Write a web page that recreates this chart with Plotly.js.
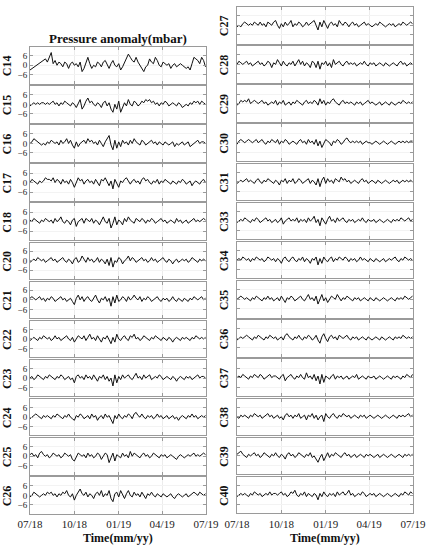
<!DOCTYPE html>
<html>
<head>
<meta charset="utf-8">
<script src="https://cdn.plot.ly/plotly-3.0.1.min.js"></script>
<style>
  html, body { margin: 0; padding: 0; background: #fff; }
  #chart { width: 428px; height: 550px; }
</style>
</head>
<body>
<div id="chart"></div>
<script>
// samples every 4 days starting 2018-07-01 (92 values per station)
var startDate = '2018-07-01';
var stepDays = 4;

var tickDates = ['2018-07-01', '2018-10-01', '2019-01-01', '2019-04-01', '2019-07-01'];
var tickLabels = ['07/18', '10/18', '01/19', '04/19', '07/19'];

var leftNames = ['C14', 'C15', 'C16', 'C17', 'C18', 'C20', 'C21', 'C22', 'C23', 'C24', 'C25', 'C26'];
var rightNames = ['C27', 'C28', 'C29', 'C30', 'C31', 'C33', 'C34', 'C35', 'C36', 'C37', 'C38', 'C39', 'C40'];

var C14 = [-3, null, null, null, null, null, null, 3, 4, 2,
  5, 8, 1, 3, 0, 2, 1, -1, 2, 1,
  -2, 1, 2, 0, 1, -1, 2, -4, -2, 1,
  5, 1, -2, 0, -1, 2, 1, -1, 2, 3,
  0, -2, 1, 3, 0, -1, 1, -3, -1, 2,
  4, 7, 5, 3, 2, 5, 2, 0, -2, -4,
  -1, 0, 4, 2, 1, 5, 3, 0, -1, 2,
  1, 0, 1, -2, 0, 1, -1, 0, 1, 0,
  -1, -2, -1, -3, 1, 5, 4, 3, 1, 5,
  3, -1];
var C15 = [-1, 0, 1, 0, 1, 0, 1, 1, 0, 1,
  0, 1, 2, 0, 1, -1, 1, 0, 2, 1,
  0, -1, 1, 0, -2, 1, 3, -3, -1, 2,
  4, 1, 2, 0, -1, 1, 0, -2, 1, 2,
  -1, 1, -3, -5, 0, -3, 2, -5, -2, 1,
  -1, 3, 0, -1, 2, 1, -1, 0, 2, 1,
  3, 2, 3, 1, 2, 0, 1, -1, 1, 0,
  2, 1, -1, 0, 1, 0, -1, 1, 0, -2,
  -1, 0, -1, 1, 0, 2, 1, 2, 0, 2,
  1, 0];
var C16 = [0, 1, 3, 2, 1, 0, -1, 0, -1, 1,
  0, 2, 1, 0, 1, -1, 2, 0, 1, 3,
  0, 2, -1, -3, 1, -2, 0, 1, 2, 0,
  3, 1, 2, 0, 1, -1, 2, 0, -2, 1,
  3, 5, -1, -4, 2, -3, 1, -2, 2, 0,
  1, -1, 2, 0, 3, 1, 0, -1, 2, 1,
  -1, 0, 1, 2, 0, 1, -1, 1, 0, -1,
  1, 0, -1, 0, 1, -2, 0, -1, 0, 1,
  -1, 0, 1, -2, -1, 0, 1, 2, 0, 1,
  1, 0];
var C17 = [0, 2, 1, 0, -1, 1, 0, 1, 3, 2,
  2, 1, 3, 0, 2, 1, -1, 2, 0, 1,
  -1, 2, 0, -3, 0, 3, 1, 2, -1, 1,
  2, 0, 1, -1, 2, 0, -2, 2, 1, 3,
  0, -2, 1, -4, 2, -1, -3, 1, 0, 2,
  3, 1, -1, 1, 2, 0, 1, -1, 2, 3,
  1, 2, 0, -1, 1, 0, 2, -1, 1, 0,
  2, 1, 0, -1, 1, 0, -1, 1, 0, 2,
  1, -1, 0, 1, -2, 0, 1, 0, -1, 1,
  2, 0];
var C18 = [1, 0, 2, 1, 0, -1, 1, 0, 2, 1,
  0, 1, -1, 2, 0, 1, 3, 0, -1, 1,
  0, -2, 1, 2, -3, 0, 1, 2, -1, 2,
  1, 0, 2, -1, 1, 0, -2, 1, 3, 0,
  -1, 2, -4, -1, 3, -2, 1, 0, -2, 2,
  0, 3, 1, 0, -1, 2, 1, 0, 2, 1,
  -1, 1, 0, 2, 1, -1, 0, 1, 2, 0,
  1, -1, 0, 1, 0, -1, 2, 0, 1, -1,
  0, 1, -1, 0, 1, 2, 0, 1, 0, 1,
  2, 1];
var C20 = [-1, 0, 1, 0, 2, 1, 0, 1, -1, 0,
  1, 2, 0, 1, -1, 0, 1, 2, 0, -1,
  1, 0, -2, 1, 2, -1, 0, 3, 1, -1,
  2, 0, 1, -1, 0, 2, -1, 1, 0, -2,
  1, -3, 2, -4, 0, -1, 2, 1, -2, 0,
  1, 3, 0, 2, 1, -1, 0, 1, 2, 0,
  1, -1, 0, 2, 0, 1, -1, 0, 1, 2,
  0, -1, 1, 0, -2, 0, 1, -1, 0, 1,
  0, 1, -1, 0, 2, 1, 0, -1, 1, 0,
  1, 0];
var C21 = [1, 2, 1, 0, 1, 2, 0, 1, -1, 1,
  0, 2, 1, -1, 0, 1, 2, 0, 1, -1,
  0, 1, -1, -3, 1, 3, 0, 2, -1, 1,
  2, 0, -1, 1, 3, 0, -2, 1, 0, 2,
  -1, 1, -4, 2, -2, 3, -1, 0, 2, 1,
  -1, 2, 0, 1, 3, 1, 0, 2, -1, 1,
  0, 2, 1, -1, 0, 1, 2, 0, -1, 1,
  0, 1, -1, 0, 2, 0, -1, 1, 0, -1,
  1, 0, -1, 1, 0, 2, 1, 0, 1, 2,
  0, 1];
var C22 = [-1, 0, 1, 0, -1, 1, 0, 2, 1, 0,
  1, -1, 0, 2, 0, 1, -1, 0, 1, 2,
  0, -1, 1, -2, 0, 2, 1, 0, 2, -1,
  1, 3, 0, 1, -1, 2, 0, -2, 1, 0,
  2, -1, -3, 1, -2, 3, 0, -1, 1, 2,
  0, -1, 2, 1, 3, 0, 1, -1, 0, 2,
  1, 0, -1, 1, 0, 2, 1, 0, -1, 1,
  0, -1, 1, 0, -2, 0, 1, 0, -1, 1,
  0, 1, 0, -1, 1, 0, 2, 1, 0, 1,
  0, 1];
var C23 = [0, 1, -1, 0, 2, 1, 0, -1, 1, 0,
  2, 1, 0, -1, 1, 0, 2, 1, -1, 0,
  1, -1, 0, -3, 1, 2, 0, 1, -1, 2,
  0, 1, -1, 2, 0, -2, 1, 0, 2, -1,
  1, -2, 0, -5, 2, -3, 1, -1, 2, 0,
  1, 2, 0, -1, 1, 3, 0, 1, -1, 2,
  0, 1, 2, -1, 0, 1, 0, 2, 1, -1,
  0, 1, 0, -1, 1, 0, -2, 0, 1, 0,
  -1, 1, 0, 1, -1, 0, 1, 2, 0, 1,
  1, 0];
var C24 = [-1, 0, 1, 2, 1, 0, -1, 1, 0, 1,
  0, -1, 1, 0, 2, 1, 0, -1, 1, 0,
  2, 0, -1, -2, 1, 0, 2, 1, -1, 0,
  1, -1, 2, 0, 1, -2, 0, 1, -1, 2,
  0, 1, -2, -4, 1, -1, 2, 0, -1, 1,
  0, 2, 1, -1, 2, 3, 1, 0, 2, 0,
  -1, 1, 0, 1, -1, 0, 2, 0, 1, -1,
  0, 1, -1, 0, 1, -1, 0, -2, 0, 1,
  0, -1, 1, 0, 2, 0, 1, -1, 0, 1,
  0, 1];
var C25 = [1, 2, 0, 1, -1, 2, 3, 1, 0, 1,
  -1, 0, 2, 1, 0, 1, -1, 0, 2, 1,
  0, 1, -2, -3, 0, 2, 1, 0, 1, -1,
  2, 0, 1, -1, 0, 2, 1, -2, 0, 2,
  1, -4, -1, 2, -3, 1, 0, -1, 2, 0,
  1, -1, 3, 0, 2, 1, 0, -1, 1, 2,
  0, 1, -1, 0, 2, 1, 0, -1, 1, 0,
  1, -1, 0, 1, 0, -1, -2, 0, 1, 0,
  -1, 0, 1, 0, 1, 2, 0, 1, 0, 1,
  2, 1];
var C26 = [-1, 0, 2, 1, 0, -1, 0, 1, 0, 2,
  1, 2, 0, 1, -1, 1, 0, 2, 1, 3,
  0, -1, 1, -3, 0, 2, 4, 1, 0, 2,
  -1, 1, 0, -2, 1, 2, 0, 3, -1, 1,
  0, 3, -2, -4, 1, 2, -1, 3, 0, -2,
  1, 3, 0, -1, 2, 0, 1, -1, 2, 0,
  -2, 1, 0, 2, 0, -1, 1, 0, -1, 1,
  0, -1, 0, 1, -1, -2, 0, 1, 0, -1,
  0, 1, -1, 0, 1, 2, 1, 0, 2, 1,
  0, 1];

var C27 = [-1, 0, -1, 1, 2, 1, 0, 1, 0, 2,
  1, 0, 2, 0, 1, -1, 2, 1, 0, 2,
  3, 0, -2, 1, -1, 2, 0, 1, 3, -1,
  1, 0, 2, 1, -1, 0, 2, 0, 1, 2,
  3, 0, -3, 2, -1, 3, 0, -2, 1, 2,
  0, 1, -1, 3, 1, 0, 2, 1, -1, 1,
  2, 0, 1, -1, 0, 1, 2, 0, 1, 0,
  -1, 0, 1, 0, 2, 1, 0, -1, 0, 1,
  0, 1, -1, 0, 1, 0, 2, 1, 0, 1,
  2, 1];
var C28 = [0, 2, 1, 0, 1, 2, 0, 1, -1, 0,
  1, 2, 0, 1, -1, 0, 2, 1, -2, 1,
  0, 3, 1, -1, 2, 0, -1, 1, 0, 2,
  -1, 1, 3, 0, 2, -1, 1, 0, -2, 2,
  1, -2, 2, -3, 1, 0, 2, -1, 1, -2,
  3, 0, 1, 2, 0, -1, 1, 2, 0, 1,
  0, 1, -1, 0, 1, 0, 2, 0, -1, 1,
  0, 1, -1, 0, 1, 0, -1, 1, 0, -1,
  0, 1, 0, -1, 1, 2, 0, 1, -1, 0,
  1, 0];
var C29 = [-1, 0, 2, 1, 2, 1, 3, 0, 1, 2,
  1, 0, 1, 2, 0, 1, -1, 0, 1, 0,
  2, -1, 1, 0, 2, -1, 0, 1, -1, 1,
  0, 2, 1, 0, -1, 1, 2, 0, 1, 0,
  2, 1, -1, 3, 0, 2, -1, 1, 0, 2,
  3, 1, 0, -1, 1, 2, 0, 1, 0, 1,
  0, -1, 1, 0, 1, -1, 0, 1, 2, 0,
  1, 0, -1, 0, 1, -1, 0, 1, 0, -1,
  1, 0, -1, 0, 1, 0, 2, 1, 0, 1,
  0, 1];
var C30 = [-1, 1, 2, 1, 0, 1, 2, 1, 0, 1,
  2, 0, 1, 2, 0, -1, 1, 0, 2, 1,
  0, 2, -1, 1, 0, 2, 1, -1, 0, 1,
  0, -1, 1, 2, 0, 1, -1, 2, 0, 1,
  -1, 2, -2, 1, -3, 0, 2, 1, 0, -2,
  1, 0, 2, 1, -1, 0, 2, 3, 1, 0,
  1, 0, 1, 0, 1, -1, 0, 1, 0, 0,
  -1, 0, 1, 0, -1, 0, 1, 0, -1, 0,
  1, 0, -1, 0, 1, 0, 1, 0, 1, 0,
  1, 1];
var C31 = [-1, 0, 1, 0, 1, 2, 0, 1, 0, -1,
  1, 2, 0, -1, 1, 0, 2, 1, 0, -1,
  1, 0, -2, 1, 0, 2, -1, 1, 0, 2,
  -1, 0, 2, 1, -1, 0, 1, 2, -1, 1,
  0, -2, 2, -3, 1, 3, -1, 2, 0, 1,
  -1, 2, 1, 0, 3, 1, 2, 0, 1, -1,
  0, 1, 0, -1, 1, 2, 0, 1, -1, 0,
  1, 0, -1, 1, 0, -1, 0, 1, 0, -1,
  0, 1, 0, 1, -1, 0, 1, 0, 1, 0,
  1, 0];
var C33 = [-1, 0, 1, 0, 2, 1, 0, -1, 1, 0,
  2, 1, -1, 0, 1, 2, 0, 1, -1, 0,
  1, -1, 0, 2, -2, 0, 1, 2, 0, 1,
  0, 2, -1, 1, 0, 1, -1, 2, 0, 1,
  3, -1, 1, -3, 2, 0, -2, 1, 3, 0,
  1, -1, 2, 0, 1, 2, 0, -1, 1, 0,
  1, -1, 0, 1, 0, 2, 0, -1, 1, 0,
  0, 1, -1, 0, 1, 0, -1, 0, 1, 0,
  -1, 1, 0, 1, 0, 2, 1, 0, 1, 2,
  0, 1];
var C34 = [0, 1, 0, 2, 1, 0, 1, -1, 1, 0,
  2, 1, 0, 1, -1, 0, 2, 1, 0, 1,
  -1, 1, 0, -2, 1, 2, 0, -1, 1, 2,
  0, -1, 1, 0, 2, -1, 1, 0, -2, 1,
  0, 2, -3, 1, -2, 2, 0, -1, 1, 2,
  -1, 1, 0, 2, 1, 0, 2, 1, -1, 1,
  0, 1, -1, 0, 2, 0, 1, 0, -1, 1,
  0, -1, 1, 0, -1, 0, 1, -1, 0, 1,
  0, 1, 2, 0, -1, 1, 0, 2, 1, 0,
  1, 0];
var C35 = [0, 1, 2, 1, 0, 1, 0, -1, 1, 0,
  2, 1, 0, -1, 1, 0, 2, 0, 1, -1,
  0, 1, -1, 2, 0, -2, 1, 0, 2, 1,
  -1, 0, 1, 2, 0, -1, 1, 3, 0, 1,
  -1, 2, -3, 0, 3, -1, 1, -2, 0, 2,
  1, 0, 3, 1, -1, 1, 0, 2, 1, 0,
  -1, 1, 0, 1, -1, 0, 1, 0, -1, 1,
  0, -1, 1, 0, -1, 0, 1, 0, -1, 0,
  1, 0, -1, 1, 0, 1, 0, 2, 1, 0,
  1, 2];
var C36 = [-1, 0, 1, 0, 1, 2, 1, 0, -1, 1,
  0, 2, 1, 0, -1, 1, 0, 2, 1, 0,
  1, -1, 0, 1, -1, 2, 3, 1, 0, -1,
  1, 0, 2, 0, -1, 1, 0, 2, 1, -1,
  0, 2, -1, -3, 1, 3, 0, -2, 1, 2,
  0, 1, -1, 2, 1, 0, 1, 2, 0, -1,
  1, 0, 1, -1, 0, 1, 0, -1, 1, 0,
  -1, 0, 1, 0, -1, 1, 0, -1, 0, 1,
  0, -1, 1, 0, 1, 0, 2, 1, 0, 1,
  0, 1];
var C37 = [0, 1, 0, 2, 1, 0, -1, 1, 0, 2,
  1, 0, 2, 1, -1, 0, 1, 2, 0, 1,
  1, 0, -1, 1, 2, -2, 0, 1, 2, 0,
  -1, 1, 0, 2, 0, -1, 3, 0, 1, -1,
  2, -2, 1, -4, 2, -3, 1, 0, -1, 1,
  2, -1, 1, 0, 1, -1, 0, 1, -1, 0,
  1, 0, 2, -1, 0, 1, 0, -1, 1, 0,
  0, 1, -1, 0, 1, 0, -1, 0, 1, 0,
  -1, 1, 0, 1, 0, -1, 1, 0, 2, 1,
  0, 2];
var C38 = [0, -1, 1, 0, 1, 0, -1, 1, 0, 2,
  1, 0, 1, -1, 0, 1, 2, 0, 1, -1,
  0, 1, -1, 0, -2, 1, 2, 0, 1, -1,
  1, 0, 2, -1, 0, 1, -2, 1, 0, 2,
  -1, 1, -2, 0, 1, -3, 2, 0, -1, 1,
  2, 0, -1, 1, 0, 2, 1, 0, 1, -1,
  0, 1, 0, -1, 1, 0, 1, -1, 0, 1,
  0, -1, 0, 1, 0, -1, 0, 1, 0, -1,
  0, 1, 0, -1, 1, 0, 1, 0, 1, 2,
  0, 1];
var C39 = [1, 2, 3, 1, 0, -1, 1, 0, 1, 2,
  0, 1, -1, 0, 2, 1, 0, -1, 1, 0,
  2, 0, -1, 1, 0, -2, 1, 2, 0, 1,
  -1, 0, 2, 1, 0, -1, 1, 0, 2, -1,
  0, -2, -4, -1, 1, -3, 0, 2, -1, 1,
  0, 2, 1, 0, -1, 1, 2, 0, 1, -1,
  0, 1, -1, 0, 1, 0, -1, 1, 0, 1,
  0, -1, 0, 1, -1, 0, 1, 0, -1, 0,
  1, 0, -1, 0, 1, 0, -1, 1, 0, 1,
  0, 1];
var C40 = [-1, 0, 1, 0, 1, 0, -1, 1, 0, 2,
  1, 0, 1, -1, 0, 1, 0, 2, 0, 1,
  1, 0, 1, 2, 0, 1, -1, 0, 2, 1,
  3, 0, -1, 1, 0, 2, -1, 1, 0, -1,
  1, 0, -3, 1, -1, 2, 0, -1, 1, 0,
  1, -1, 2, 0, 1, 2, 0, 1, 3, 0,
  1, -1, 0, 1, 0, 2, 1, -1, 0, 1,
  0, 1, -1, 0, 1, 0, -1, 0, 1, 0,
  -1, 0, 1, 0, -1, 1, 0, 2, 1, 0,
  2, 1];

var leftSeries = [C14, C15, C16, C17, C18, C20, C21, C22, C23, C24, C25, C26];
var rightSeries = [C27, C28, C29, C30, C31, C33, C34, C35, C36, C37, C38, C39, C40];

function makeDates(n) {
    var out = [];
    var t0 = new Date(startDate + 'T00:00:00Z').getTime();
    for (var k = 0; k < n; k++) {
        out.push(new Date(t0 + k * stepDays * 86400000).toISOString().slice(0, 10));
    }
    return out;
}

var W = 428, H = 550;
var serif = 'Liberation Serif, Times New Roman, serif';
var frameColor = '#9a9a9a';

var data = [];
var layout = {
    width: W,
    height: H,
    margin: {l: 0, r: 0, t: 0, b: 0},
    paper_bgcolor: '#fff',
    plot_bgcolor: '#fff',
    showlegend: false,
    font: {family: serif, size: 10, color: '#222'},
    annotations: []
};

function addColumn(names, series, x0, x1, top0, pitch, panelH, axStart, showY, labelX) {
    names.forEach(function (name, i) {
        var n = axStart + i;
        var top = top0 + i * pitch;
        var bottom = top + panelH;
        var last = (i === names.length - 1);
        data.push({
            x: makeDates(series[i].length),
            y: series[i],
            xaxis: 'x' + n,
            yaxis: 'y' + n,
            type: 'scatter',
            mode: 'lines',
            connectgaps: true,
            line: {color: '#111', width: 1},
            hoverinfo: 'skip'
        });
        layout['xaxis' + n] = {
            domain: [x0 / W, x1 / W],
            anchor: 'y' + n,
            type: 'date',
            range: ['2018-07-01', '2019-07-01'],
            tickmode: 'array',
            tickvals: tickDates,
            ticktext: tickLabels,
            showticklabels: last,
            tickfont: {family: serif, size: 11, color: '#222'},
            ticks: 'inside',
            ticklen: 3,
            tickcolor: frameColor,
            showline: true,
            linecolor: frameColor,
            linewidth: 1,
            mirror: 'ticks',
            showgrid: true,
            gridcolor: '#ececec',
            zeroline: false
        };
        layout['yaxis' + n] = {
            domain: [1 - bottom / H, 1 - top / H],
            anchor: 'x' + n,
            range: [-11.5, 11.5],
            tickmode: 'array',
            tickvals: [-6, 0, 6],
            showticklabels: showY,
            tickfont: {family: serif, size: 9, color: '#222'},
            ticks: 'inside',
            ticklen: 3,
            tickcolor: frameColor,
            showline: true,
            linecolor: frameColor,
            linewidth: 1,
            mirror: 'ticks',
            showgrid: true,
            gridcolor: '#f3f3f3',
            zeroline: false
        };
        layout.annotations.push({
            text: '<b>' + name + '</b>',
            xref: 'paper', yref: 'paper',
            x: labelX / W,
            y: 1 - (top + panelH / 2) / H,
            xanchor: 'center', yanchor: 'middle',
            textangle: -90,
            showarrow: false,
            font: {family: serif, size: 12, color: '#111'}
        });
    });
    layout.annotations.push({
        text: '<b>Time(mm/yy)</b>',
        xref: 'paper', yref: 'paper',
        x: (x0 + x1) / 2 / W,
        y: 1 - 538 / H,
        xanchor: 'center', yanchor: 'middle',
        showarrow: false,
        font: {family: serif, size: 12, color: '#111'}
    });
}

addColumn(leftNames, leftSeries, 30, 206, 47, 39.1, 36.5, 1, true, 7);
addColumn(rightNames, rightSeries, 237, 413, 7, 39.15, 36.5, 13, false, 224);

layout.annotations.push({
    text: '<b>Pressure anomaly(mbar)</b>',
    xref: 'paper', yref: 'paper',
    x: 118 / W,
    y: 1 - 38 / H,
    xanchor: 'center', yanchor: 'middle',
    showarrow: false,
    font: {family: serif, size: 13, color: '#111'}
});

Plotly.newPlot('chart', data, layout, {displayModeBar: false, staticPlot: true});
</script>
</body>
</html>
